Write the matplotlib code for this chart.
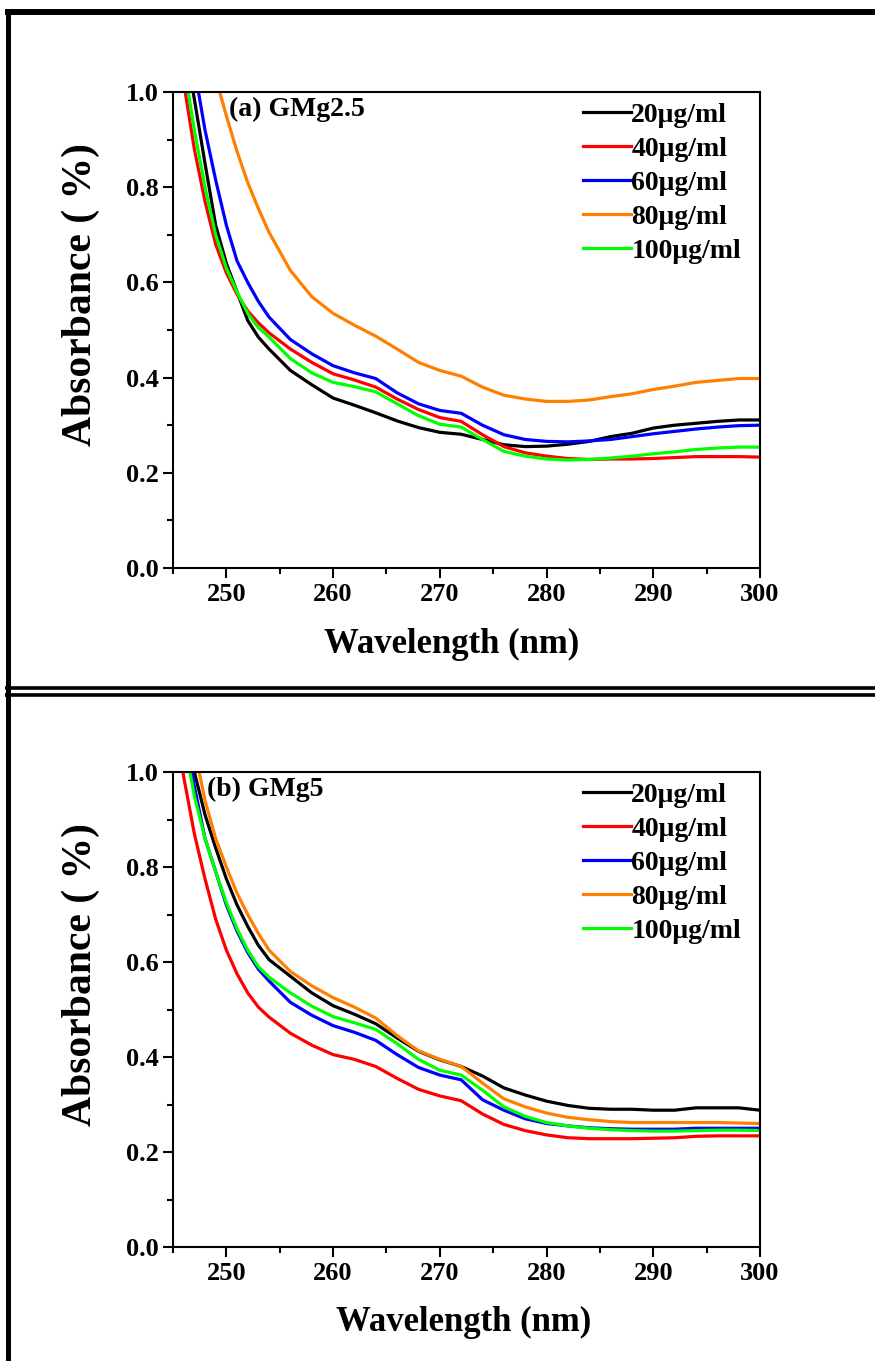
import matplotlib
matplotlib.use("Agg")
import matplotlib.pyplot as plt
from matplotlib.lines import Line2D
from matplotlib.ticker import MultipleLocator, FormatStrFormatter

plt.rcParams["font.family"] = ["Liberation Serif", "DejaVu Serif"]
plt.rcParams["font.weight"] = "bold"

# wavelength grid (nm)
wavelength = [245, 246, 247, 248, 249, 250, 251, 252, 253, 254, 256, 258, 260,
              262, 264, 266, 268, 270, 272, 274, 276, 278, 280, 282, 284, 286,
              288, 290, 292, 294, 296, 298, 300]

labels = ["20\u03bcg/ml", "40\u03bcg/ml", "60\u03bcg/ml", "80\u03bcg/ml", "100\u03bcg/ml"]
colors = ["#000000", "#ff0000", "#0000ff", "#ff8000", "#00ff00"]

# (a) GMg2.5
a_20 = [1.30, 1.12, 0.985, 0.85, 0.72, 0.64, 0.58, 0.52, 0.485, 0.46, 0.415, 0.385, 0.357,
        0.342, 0.326, 0.309, 0.295, 0.285, 0.281, 0.27, 0.259, 0.255, 0.256, 0.26, 0.266,
        0.276, 0.283, 0.294, 0.30, 0.304, 0.308, 0.311, 0.311]
a_40 = [1.18, 1.02, 0.88, 0.77, 0.68, 0.62, 0.575, 0.54, 0.515, 0.494, 0.46, 0.432, 0.408,
        0.395, 0.38, 0.355, 0.333, 0.316, 0.308, 0.28, 0.255, 0.242, 0.235, 0.23, 0.228,
        0.229, 0.229, 0.23, 0.232, 0.234, 0.234, 0.234, 0.233]
a_60 = [1.40, 1.22, 1.05, 0.92, 0.815, 0.72, 0.645, 0.60, 0.56, 0.527, 0.48, 0.45, 0.425,
        0.41, 0.398, 0.368, 0.345, 0.331, 0.325, 0.30, 0.28, 0.27, 0.266, 0.265, 0.267,
        0.27, 0.276, 0.282, 0.287, 0.292, 0.296, 0.299, 0.30]
a_80 = [1.60, 1.45, 1.30, 1.17, 1.03, 0.95, 0.875, 0.81, 0.755, 0.705, 0.625, 0.57, 0.535,
        0.51, 0.487, 0.46, 0.432, 0.415, 0.403, 0.38, 0.363, 0.355, 0.35, 0.35, 0.353,
        0.36, 0.366, 0.375, 0.382, 0.39, 0.394, 0.398, 0.398]
a_100 = [1.22, 1.06, 0.92, 0.80, 0.70, 0.63, 0.58, 0.535, 0.505, 0.485, 0.44, 0.41, 0.39,
         0.381, 0.37, 0.345, 0.32, 0.302, 0.296, 0.27, 0.245, 0.235, 0.229, 0.227, 0.228,
         0.231, 0.235, 0.24, 0.244, 0.249, 0.252, 0.254, 0.254]

# (b) GMg5
b_20 = [1.35, 1.15, 1.0, 0.91, 0.84, 0.775, 0.72, 0.675, 0.635, 0.605, 0.57, 0.535, 0.508,
        0.49, 0.47, 0.44, 0.412, 0.394, 0.38, 0.36, 0.335, 0.32, 0.307, 0.298, 0.292,
        0.29, 0.29, 0.288, 0.288, 0.293, 0.293, 0.293, 0.288]
b_40 = [1.15, 0.99, 0.87, 0.775, 0.69, 0.625, 0.575, 0.535, 0.505, 0.484, 0.45, 0.425, 0.405,
        0.395, 0.38, 0.355, 0.332, 0.318, 0.308, 0.28, 0.258, 0.245, 0.236, 0.23, 0.228,
        0.228, 0.228, 0.229, 0.23, 0.233, 0.234, 0.234, 0.234]
b_60 = [1.30, 1.12, 0.97, 0.86, 0.79, 0.72, 0.665, 0.62, 0.585, 0.56, 0.515, 0.488, 0.466,
        0.452, 0.435, 0.405, 0.378, 0.362, 0.352, 0.31, 0.288, 0.27, 0.26, 0.255, 0.251,
        0.249, 0.248, 0.248, 0.248, 0.25, 0.25, 0.25, 0.25]
b_80 = [1.40, 1.22, 1.05, 0.94, 0.86, 0.80, 0.745, 0.70, 0.66, 0.625, 0.58, 0.55, 0.525,
        0.505, 0.482, 0.445, 0.413, 0.395, 0.38, 0.345, 0.312, 0.295, 0.282, 0.273, 0.268,
        0.264, 0.262, 0.262, 0.262, 0.262, 0.262, 0.261, 0.26]
b_100 = [1.22, 1.07, 0.95, 0.86, 0.79, 0.725, 0.67, 0.625, 0.59, 0.568, 0.535, 0.507, 0.485,
         0.472, 0.458, 0.428, 0.395, 0.372, 0.362, 0.33, 0.295, 0.275, 0.262, 0.255, 0.25,
         0.247, 0.245, 0.244, 0.244, 0.245, 0.246, 0.246, 0.245]

# title, series, title x, xlabel x
panels = [
    ("(a) GMg2.5", [a_20, a_40, a_60, a_80, a_100], 0.095, 0.474),
    ("(b) GMg5", [b_20, b_40, b_60, b_80, b_100], 0.058, 0.495),
]

W, H = 875, 1361
fig = plt.figure(figsize=(W / 100, H / 100), dpi=100)

# axes boxes in pixels: left, top, right, bottom
boxes = [(173, 92, 760, 568), (173, 772, 760, 1247)]

for (title, series, tx, lx), (l, t, r, b) in zip(panels, boxes):
    ax = fig.add_axes([l / W, 1 - b / H, (r - l) / W, (b - t) / H])
    for ys, c, lab in zip(series, colors, labels):
        ax.plot(wavelength, ys, color=c, lw=2.3, label=lab)
    ax.set_xlim(245, 300)
    ax.set_ylim(0, 1.0)
    ax.set_xticks([250, 260, 270, 280, 290, 300])
    ax.xaxis.set_minor_locator(MultipleLocator(5))
    ax.yaxis.set_major_locator(MultipleLocator(0.2))
    ax.yaxis.set_minor_locator(MultipleLocator(0.1))
    ax.yaxis.set_major_formatter(FormatStrFormatter("%.1f"))
    ax.tick_params(which="both", direction="out", width=1.5, labelsize=19)
    ax.tick_params(which="major", length=7)
    ax.tick_params(which="minor", length=4)
    ax.tick_params(axis="y", pad=3)
    ax.tick_params(axis="x", pad=4)
    for sp in ax.spines.values():
        sp.set_linewidth(1.5)
    for lab in ax.get_xticklabels() + ax.get_yticklabels():
        lab.set_fontweight("bold")
    ax.set_xlabel("Wavelength (nm)", fontsize=25, fontweight="bold")
    ax.set_ylabel("Absorbance ( %)", fontsize=30, fontweight="bold")
    ax.xaxis.set_label_coords(lx, -0.125)
    ax.yaxis.set_label_coords(-0.125, 0.574)
    ax.text(tx, 0.99, title, transform=ax.transAxes, fontsize=20,
            fontweight="bold", va="top", ha="left")
    ax.legend(loc="upper left", bbox_to_anchor=(0.698, 0.978), frameon=False,
              prop={"size": 20, "weight": "bold"}, handlelength=1.75,
              handletextpad=0.0, labelspacing=0.31, borderpad=0, borderaxespad=0)

# frame lines around the panels
def hline(y, x0=5, x1=875, lw=4.3):
    fig.add_artist(Line2D([x0 / W, x1 / W], [1 - y / H, 1 - y / H],
                          transform=fig.transFigure, color="black", lw=lw,
                          solid_capstyle="butt"))

hline(12)
hline(687.5, lw=2.6)
hline(695, lw=2.6)
fig.add_artist(Line2D([7.5 / W, 7.5 / W], [1 - 9 / H, 0], transform=fig.transFigure,
                      color="black", lw=3.6, solid_capstyle="butt"))

fig.savefig("out.png", dpi=100)
